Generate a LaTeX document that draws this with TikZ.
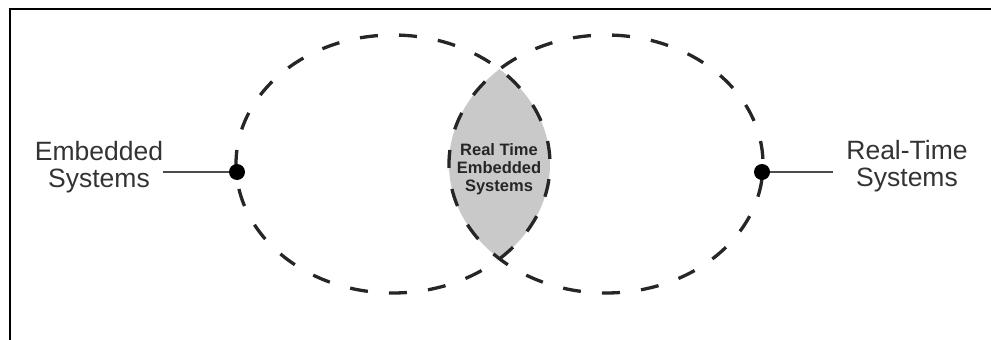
\documentclass[tikz,border=0pt]{standalone}
\usepackage{fontspec}
\setmainfont{Liberation Sans}
\begin{document}
\begin{tikzpicture}[x=1pt,y=-1pt,
  setring/.style={draw=black!85, line width=3.3pt, dash pattern=on 18pt off 21.2pt, dash phase=24pt},
  sidelabel/.style={align=center, font=\fontsize{26.5}{27}\selectfont, text=black!80, inner sep=0pt},
  corelabel/.style={align=center, font=\bfseries\fontsize{16.5}{18}\selectfont, text=black!85, inner sep=0pt},
  junction/.style={circle, fill=black, minimum size=16pt, inner sep=0pt},
  leader/.style={draw=black!70, line width=1.6pt}]
\useasboundingbox (0,0) rectangle (991,340);
% frame edges
\draw[line width=2pt] (10,340) -- (10,9) -- (991,9);
% shaded overlap of the two sets
\begin{scope}
  \clip (393,164) ellipse [x radius=157, y radius=129];
  \fill[black!21] (606,164) ellipse [x radius=157, y radius=129];
\end{scope}
% the two sets
\draw[setring] (393,164) ellipse [x radius=157, y radius=129];
\draw[setring] (606,164) ellipse [x radius=157, y radius=129];
% labels
\node[corelabel] (core) at (499,169) {Real Time\\Embedded\\Systems};
\node[sidelabel] (emb) at (99,167) {Embedded\\Systems};
\node[sidelabel] (rts) at (907,166.5) {Real-Time\\Systems};
% attachment points
\node[junction] (ldot) at (237,172) {};
\node[junction] (rdot) at (762,172) {};
\coordinate (rend) at (833,172);
\draw[leader] (emb.east |- ldot) -- (ldot);
\draw[leader] (rdot) -- (rend);
\end{tikzpicture}
\end{document}
